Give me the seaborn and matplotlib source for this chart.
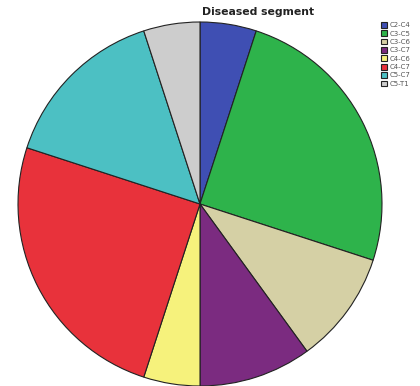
import matplotlib
matplotlib.use("Agg")
import matplotlib.pyplot as plt
import seaborn as sns

sns.set_style("white")
plt.rcParams['font.family'] = ['DejaVu Sans']

segments = ["C2-C4", "C3-C5", "C3-C6", "C3-C7", "C4-C6", "C4-C7", "C5-C7", "C5-T1"]
counts = [1, 5, 2, 2, 1, 5, 3, 1]
colors = ["#3f4fb3", "#2eb34b", "#d5d0a5", "#7b2b80", "#f6f27c", "#e8323b", "#4cc0c3", "#cdcdcd"]

fig = plt.figure(figsize=(4.2, 3.86), dpi=100)
ax = fig.add_axes([18/420, 0.0, 364/420, 364/386])
wedges, _ = ax.pie(counts, colors=colors, startangle=90, counterclock=False,
                   wedgeprops=dict(edgecolor="#222222", linewidth=0.8))
for w in wedges:
    w.set_clip_on(False)
ax.set_xlim(-1, 1)
ax.set_ylim(-1, 1)
ax.set_aspect("equal")
ax.axis("off")

fig.text(258/420, 1 - 12/386, "Diseased segment", ha="center", va="center",
         fontsize=7.8, fontweight="bold", color="#222222")

leg = fig.legend(wedges, segments, loc="upper left", bbox_to_anchor=(381/420, 1 - 22/386),
                 frameon=False, fontsize=5, handlelength=0.9, handleheight=0.9,
                 handletextpad=0.4, labelspacing=0.3, borderaxespad=0, borderpad=0)
for t in leg.get_texts():
    t.set_color("#555555")

fig.savefig("out.png", dpi=100)
